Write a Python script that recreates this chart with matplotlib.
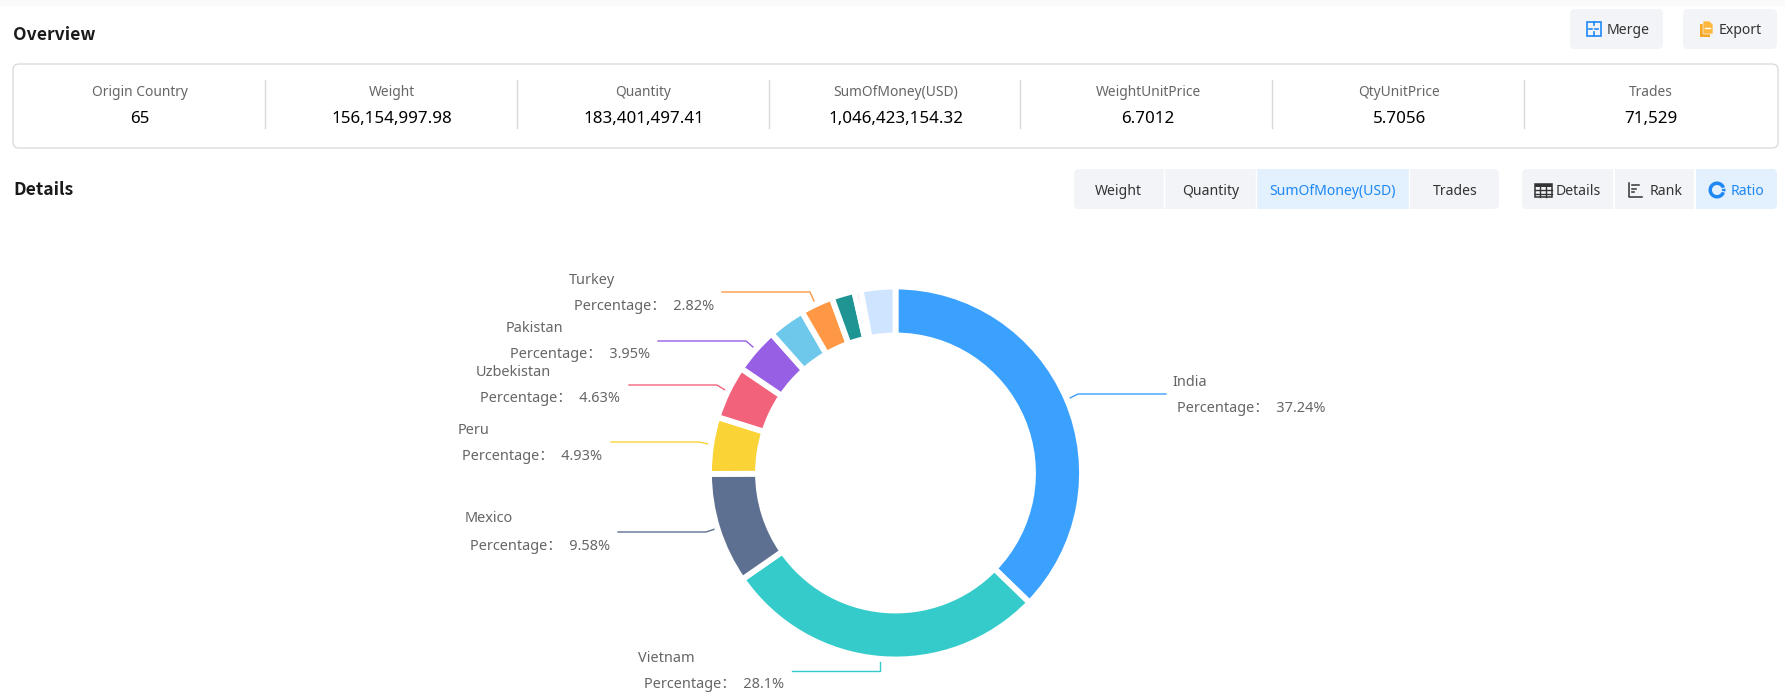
import matplotlib.pyplot as plt
from matplotlib.patches import FancyBboxPatch, Rectangle, Wedge, Polygon

# summary strip
stat_names = ['Origin Country', 'Weight', 'Quantity', 'SumOfMoney(USD)', 'WeightUnitPrice', 'QtyUnitPrice', 'Trades']
stat_values = ['65', '156,154,997.98', '183,401,497.41', '1,046,423,154.32', '6.7012', '5.7056', '71,529']
stat_x = [140, 392, 643.5, 896, 1148, 1399, 1651]
sep_x = [265, 517, 769, 1020, 1272, 1524]

# donut
countries = ['India', 'Vietnam', 'Mexico', 'Peru', 'Uzbekistan', 'Pakistan', 'Other1', 'Turkey', 'Other2', 'Other3', 'Other4']
shares = [37.24, 28.1, 9.58, 4.93, 4.63, 3.95, 3.2, 2.82, 2.0, 0.55, 3.0]
colors = ['#3AA1FF', '#36CBCB', '#5D7092', '#FAD337', '#F2637B', '#975FE4', '#6DC8EC', '#FF9845', '#1E9493', '#FF99C3', '#CFE5FF']

labelled = ['India', 'Vietnam', 'Mexico', 'Peru', 'Uzbekistan', 'Pakistan', 'Turkey']
pct_text = ['37.24%', '28.1%', '9.58%', '4.93%', '4.63%', '3.95%', '2.82%']

# label layout in pixels: name x/y, percentage x/y, leader start, elbow, end x
name_pos = [(1172.5, 381), (638.5, 657), (464.5, 517), (457.5, 429), (475.5, 371), (505.5, 327), (568.5, 279)]
pct_pos = [(1177, 407), (643.5, 683), (469.5, 545), (462.5, 455), (479.5, 398), (509.5, 354), (573.5, 305)]
lead_start = [(1070, 398), (880, 661), (715, 529), (708, 444), (725, 390), (753, 347), (814, 301)]
lead_elbow = [(1078, 394), (880, 671), (706, 532), (699, 442), (717, 385), (746, 341), (810, 292)]
lead_end = [1166, 792, 618, 611, 629, 658, 722]

W, H = 1785, 700
FONT = ['Noto Sans', 'Noto Sans CJK SC']
BOLD_FONT = ['Noto Sans CJK SC']
BTN = '#F2F4F8'
HILITE = '#E3F0FD'
BLUE = '#1E88F5'


def px(size):
    return size * 72 / 100


fig = plt.figure(figsize=(W / 100, H / 100), dpi=100, facecolor='white')
ax = fig.add_axes([0, 0, 1, 1])
ax.set_xlim(0, W)
ax.set_ylim(H, 0)
ax.axis('off')


def box(x0, y0, x1, y1, fc, ec='none', lw=0, r=5):
    ax.add_patch(FancyBboxPatch((x0 + r, y0 + r), x1 - x0 - 2 * r, y1 - y0 - 2 * r,
                                boxstyle='round,pad=%d,rounding_size=%d' % (r, r),
                                fc=fc, ec=ec, lw=lw))


def label(x, y, s, size=14, color='#333333', ha='left', fam=FONT, weight='normal'):
    ax.text(x, y + 1, s, fontsize=px(size), color=color, ha=ha, va='center', family=fam, fontweight=weight)


# top band and headings
ax.add_patch(Rectangle((0, 0), W, 6, fc='#FAFAFA', ec='none'))
label(13, 34, 'Overview', 17.5, '#1A1A1A', fam=BOLD_FONT, weight='bold')
label(13, 189, 'Details', 17.5, '#1A1A1A', fam=BOLD_FONT, weight='bold')

# stat box
box(13, 64, 1778, 148, 'white', '#DCDCDC', 1, 6)
for x in sep_x:
    ax.plot([x, x], [80, 128], color='#D9D9D9', lw=1)
for x, n, v in zip(stat_x, stat_names, stat_values):
    label(x, 92, n, 13.8, '#666666', 'center')
    label(x, 118, v, 17, '#000000', 'center')

# top buttons
box(1570, 9, 1663, 49, BTN)
box(1683, 9, 1777, 49, BTN)
label(1606.5, 29.5, 'Merge', 14, '#333333')
label(1719, 29.5, 'Export', 14, '#333333')
# merge icon
ax.add_patch(Rectangle((1586.5, 21.5), 14, 14, fc='none', ec=BLUE, lw=1.2))
ax.plot([1593.5, 1593.5], [21.5, 25], color=BLUE, lw=1.2)
ax.plot([1593.5, 1593.5], [32, 35.5], color=BLUE, lw=1.2)
ax.plot([1589, 1592], [28.5, 28.5], color=BLUE, lw=1.2)
ax.plot([1595, 1598], [28.5, 28.5], color=BLUE, lw=1.2)
# export icon
ax.add_patch(Rectangle((1700, 24), 10, 13, fc='#F5A623', ec='none'))
ax.add_patch(Polygon([(1703, 21), (1709.5, 21), (1713, 24.5), (1713, 34), (1703, 34)], fc='#FFB83D', ec=BTN, lw=0.5))
ax.plot([1705, 1710], [28, 28], color='white', lw=1)

# tab group
box(1074, 169, 1499, 209, BTN)
ax.add_patch(Rectangle((1256, 169), 153, 40, fc=HILITE, ec='none'))
for x in [1164, 1255.5, 1409]:
    ax.plot([x, x], [169, 209], color='white', lw=1)
for x, s, c in zip([1118.5, 1210.5, 1332, 1455.5], ['Weight', 'Quantity', 'SumOfMoney(USD)', 'Trades'],
                   ['#333333', '#333333', BLUE, '#333333']):
    label(x, 190.5, s, 14, c, 'center')

# view group
box(1522, 169, 1777, 209, BTN)
box(1696, 169, 1777, 209, HILITE)
ax.add_patch(Rectangle((1696, 169), 10, 40, fc=HILITE, ec='none'))
for x in [1614, 1695]:
    ax.plot([x, x], [169, 209], color='white', lw=1.5)
label(1556, 190.5, 'Details', 14, '#333333')
label(1649.5, 190.5, 'Rank', 14, '#333333')
label(1731, 190.5, 'Ratio', 14, BLUE)
ax.add_patch(Rectangle((1534.5, 183.5), 17, 13.5, fc='none', ec='#333333', lw=1.1))
ax.add_patch(Rectangle((1534.5, 183.5), 17, 3, fc='#333333', ec='none'))
for y in [190, 193.5]:
    ax.plot([1534.5, 1551.5], [y, y], color='#333333', lw=1)
for x in [1540, 1546]:
    ax.plot([x, x], [183.5, 197], color='#333333', lw=1)
ax.plot([1629, 1629, 1642], [183, 197, 197], color='#333333', lw=1.1)
for y, x1 in zip([185, 188.5, 192], [1639, 1636, 1634]):
    ax.plot([1632, x1], [y, y], color='#333333', lw=1.1)
ax.add_patch(Wedge((1717, 190), 8.5, 20, 340, width=3.5, fc=BLUE, ec='none'))
ax.add_patch(Wedge((1717, 190), 8.5, -10, 10, width=3.5, fc=BLUE, ec='none'))

# donut, centre (895.5, 473); visible outer radius plus half the white stroke
R = 186.5
pie_ax = fig.add_axes([(895.5 - R) / W, (H - 473 - R) / H, 2 * R / W, 2 * R / H])
pie_ax.pie(shares, colors=colors, startangle=90, counterclock=False, radius=1,
           wedgeprops=dict(width=49 / R, edgecolor='white', linewidth=4.2))
pie_ax.set_xlim(-1, 1)
pie_ax.set_ylim(-1, 1)

# leaders and labels
for i, name in enumerate(labelled):
    c = colors[countries.index(name)]
    ax.plot([lead_start[i][0], lead_elbow[i][0], lead_end[i]],
            [lead_start[i][1], lead_elbow[i][1], lead_elbow[i][1]], color=c, lw=1)
    label(name_pos[i][0], name_pos[i][1], name, 14.5, '#666666')
    label(pct_pos[i][0], pct_pos[i][1], 'Percentage\uff1a  ' + pct_text[i], 14.5, '#666666')

fig.savefig('out.png', dpi=100)
